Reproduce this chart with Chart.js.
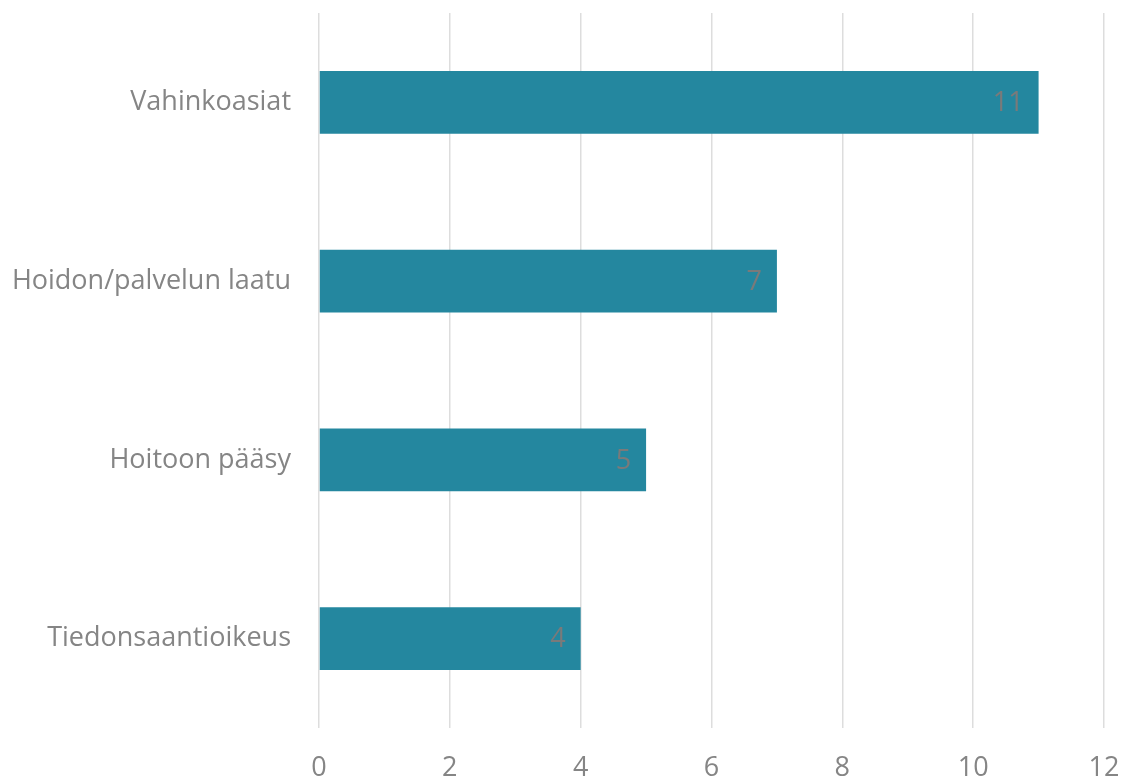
<!DOCTYPE html>
<html>
<head>
<meta charset="utf-8">
<script src="https://cdn.jsdelivr.net/npm/chart.js@4"></script>
<style>
  html, body { margin: 0; padding: 0; background: #fff; }
  #wrap { width: 1122px; height: 781px; }
</style>
</head>
<body>
<div id="wrap"><canvas id="barChart"></canvas></div>
<script>
const categories = ['Vahinkoasiat', 'Hoidon/palvelun laatu', 'Hoitoon pääsy', 'Tiedonsaantioikeus'];
const counts = [11, 7, 5, 4];
const xTicks = [0, 2, 4, 6, 8, 10, 12];

const FONT = "'Open Sans', 'Noto Sans', sans-serif";
const GREY = '#858585';

// keep the axes from reserving extra room for half-labels at the edges
function noEdgePadding(axis) {
    axis.paddingTop = 0;
    axis.paddingBottom = 0;
    axis.paddingLeft = 0;
    axis.paddingRight = 0;
}

// writes each value just inside the end of its bar
const valueLabels = {
    id: 'valueLabels',
    afterDatasetsDraw(chart) {
        const ctx = chart.ctx;
        const meta = chart.getDatasetMeta(0);
        ctx.save();
        ctx.font = '27px ' + FONT;
        ctx.fillStyle = '#7a7a7a';
        ctx.textAlign = 'right';
        ctx.textBaseline = 'middle';
        meta.data.forEach((bar, i) => {
            ctx.fillText(String(counts[i]), bar.x - 15, bar.y + 1);
        });
        ctx.restore();
    }
};

const ctx = document.getElementById('barChart').getContext('2d');
new Chart(ctx, {
    type: 'bar',
    data: {
        labels: categories,
        datasets: [{
            data: counts,
            backgroundColor: '#24879f',
            barPercentage: 0.7,
            categoryPercentage: 0.5
        }]
    },
    options: {
        indexAxis: 'y',
        responsive: true,
        maintainAspectRatio: false,
        animation: false,
        layout: { padding: { top: 13, right: 18, left: 0, bottom: 0 } },
        plugins: {
            legend: { display: false },
            tooltip: { enabled: false }
        },
        scales: {
            x: {
                min: 0,
                max: 12,
                afterBuildTicks: axis => { axis.ticks = xTicks.map(v => ({ value: v })); },
                afterFit: axis => { axis.height = 53; noEdgePadding(axis); },
                border: { display: false },
                grid: { color: '#dddddd', lineWidth: 1.5, drawTicks: false },
                ticks: { color: GREY, font: { family: FONT, size: 27 }, padding: 24 }
            },
            y: {
                afterFit: axis => { axis.width = 319; noEdgePadding(axis); },
                border: { display: false },
                grid: { display: false, drawTicks: false },
                ticks: { color: GREY, font: { family: FONT, size: 27 }, padding: 28 }
            }
        }
    },
    plugins: [valueLabels]
});
</script>
</body>
</html>
